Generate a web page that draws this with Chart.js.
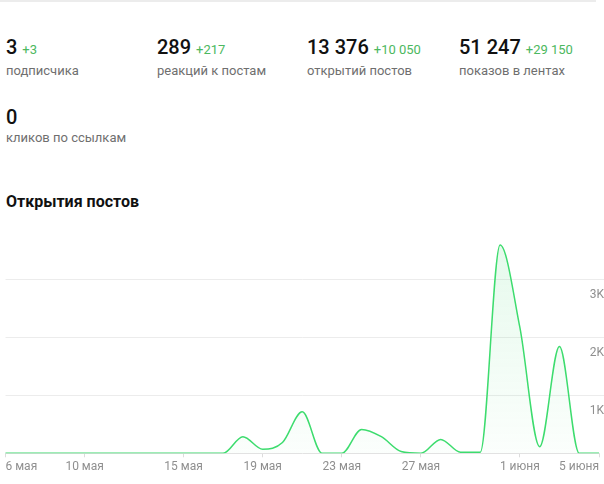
<!DOCTYPE html>
<html>
<head>
<meta charset="utf-8">
<script src="https://cdn.jsdelivr.net/npm/chart.js@4"></script>
<style>
  body { margin: 0; width: 604px; height: 484px; background: #fff; font-family: Roboto, "Noto Sans", sans-serif; position: relative; overflow: hidden; }
  .topline { position: absolute; left: 0; top: 0; width: 596px; height: 2px; background: #ececec; }
  .stat { position: absolute; }
  .num { font-size: 20px; font-weight: 500; color: #111; line-height: 24px; white-space: nowrap; }
  .num span { font-size: 13px; font-weight: 400; color: #4cb860; }
  .lbl { font-size: 13px; color: #6f6f6f; line-height: 18px; margin-top: 0; white-space: nowrap; }
  .title { position: absolute; left: 6px; top: 192px; font-size: 16px; font-weight: 700; color: #111; line-height: 20px; }
  .box { position: absolute; left: 0; top: 216px; width: 604px; height: 268px; }
</style>
</head>
<body>
<div class="topline"></div>
<div id="stats"></div>
<div class="title">Открытия постов</div>
<div class="box"><canvas id="openChart"></canvas></div>
<script>
// --- Data ---
const statValues = ['3', '289', '13 376', '51 247', '0'];
const statDeltas = ['+3', '+217', '+10 050', '+29 150', ''];
const statLabels = ['подписчика', 'реакций к постам', 'открытий постов', 'показов в лентах', 'кликов по ссылкам'];

const days = ['6 мая', '7 мая', '8 мая', '9 мая', '10 мая', '11 мая', '12 мая', '13 мая', '14 мая',
  '15 мая', '16 мая', '17 мая', '18 мая', '19 мая', '20 мая', '21 мая', '22 мая', '23 мая', '24 мая',
  '25 мая', '26 мая', '27 мая', '28 мая', '29 мая', '30 мая', '31 мая', '1 июня', '2 июня', '3 июня',
  '4 июня', '5 июня'];
const opens = [0, 0, 0, 0, 0, 0, 0, 0, 0, 0, 0, 0, 285, 70, 185, 715, 0, 0, 412, 286, 30, 0, 240, 20, 20,
  3590, 2170, 115, 1840, 0, 0];
const shownDays = ['6 мая', '10 мая', '15 мая', '19 мая', '23 мая', '27 мая', '1 июня', '5 июня'];
const yTicks = [1000, 2000, 3000];

// --- Stat cards ---
const statPos = [[6, 35], [157, 35], [307, 35], [459, 35], [6, 105]];
const $stats = document.getElementById('stats');
statValues.forEach(function (v, i) {
  const d = document.createElement('div');
  d.className = 'stat';
  d.style.left = statPos[i][0] + 'px';
  d.style.top = statPos[i][1] + 'px';
  d.innerHTML = '<div class="num">' + v + (statDeltas[i] ? ' <span>' + statDeltas[i] + '</span>' : '') + '</div>' +
    '<div class="lbl">' + statLabels[i] + '</div>';
  $stats.appendChild(d);
});

// --- Chart ---
const ctx = document.getElementById('openChart').getContext('2d');
const grad = ctx.createLinearGradient(0, 5, 0, 237);
grad.addColorStop(0, 'rgba(61, 214, 110, 0.14)');
grad.addColorStop(1, 'rgba(61, 214, 110, 0.02)');

new Chart(ctx, {
  type: 'line',
  data: {
    labels: days,
    datasets: [{
      data: opens,
      borderColor: '#3ddc6e',
      borderWidth: 1.5,
      backgroundColor: grad,
      fill: true,
      cubicInterpolationMode: 'monotone',
      pointRadius: 0
    }]
  },
  options: {
    responsive: true,
    maintainAspectRatio: false,
    animation: false,
    layout: { padding: { left: 5.5, top: 5.3, right: 0, bottom: 0 } },
    plugins: { legend: { display: false }, tooltip: { enabled: false } },
    scales: {
      x: {
        grid: { drawOnChartArea: false, drawTicks: true, tickLength: 4, color: '#dcdcdc' },
        border: { display: true, color: '#e2e2e2' },
        ticks: {
          autoSkip: false, maxRotation: 0, align: 'inner', padding: 2,
          color: '#8f8f8f', font: { family: 'Roboto', size: 12 },
          callback: function (v, i) { return shownDays.includes(days[i]) ? days[i] : null; }
        },
        afterFit: function (s) { s.height = 30.7; }
      },
      y: {
        position: 'right',
        min: 0, max: 4000,
        grid: { color: '#ececec', tickLength: 5, drawTicks: true },
        border: { display: false },
        ticks: {
          stepSize: 1000, mirror: true, padding: 5, labelOffset: 16,
          color: '#8f8f8f', font: { family: 'Roboto', size: 12 },
          callback: function (v) { return yTicks.includes(v) ? (v / 1000) + 'K' : null; }
        },
        afterFit: function (s) { s.width = 5; s.paddingTop = 0; s.paddingBottom = 0; }
      }
    }
  }
});
</script>
</body>
</html>
